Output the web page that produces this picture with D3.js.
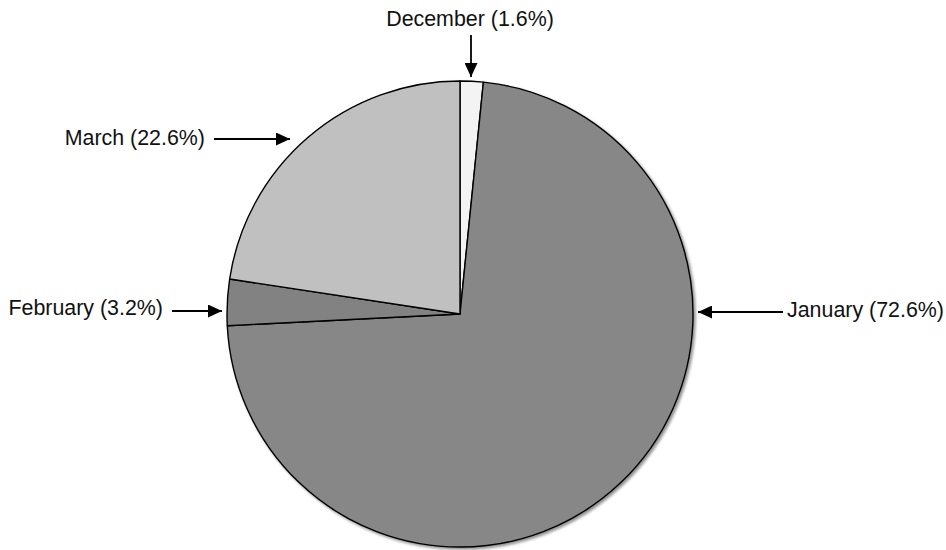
<!DOCTYPE html>
<html>
<head>
<meta charset="utf-8">
<script src="https://cdn.jsdelivr.net/npm/d3@7"></script>
<style>
  html, body { margin: 0; padding: 0; background: #fff; }
  svg { display: block; }
  text { font-family: "Liberation Sans", Arial, sans-serif; font-size: 21.4px; fill: #111; }
</style>
</head>
<body>
<svg id="chart" width="946" height="550"></svg>
<script>
// Share of records by month
const months = ["December", "January", "February", "March"];
const shares = [1.6, 72.6, 3.2, 22.6];
const fills = ["#f3f3f3", "#878787", "#828282", "#c0c0c0"];

const width = 946, height = 550;
const cx = 460, cy = 314, radius = 233;

// Callout placement for each slice label (relative to the pie centre)
// dir: direction the arrow points; len: shaft length; tx/ty: text anchor offset from the tip
const callouts = [
  { dir: "down",  tipX: 11,   tipY: -237, len: 42, anchor: "middle", tx: -1,  ty: -51 },
  { dir: "left",  tipX: 238,  tipY: -2,   len: 85, anchor: "start",  tx: 89,  ty: 5 },
  { dir: "right", tipX: -238, tipY: -3,   len: 50, anchor: "end",    tx: -59, ty: 4 },
  { dir: "right", tipX: -170, tipY: -175, len: 76, anchor: "end",    tx: -85, ty: 6 }
];

const svg = d3.select("#chart");

const defs = svg.append("defs");
const shadow = defs.append("filter").attr("id", "pieShadow")
  .attr("x", "-10%").attr("y", "-10%").attr("width", "120%").attr("height", "120%");
shadow.append("feGaussianBlur").attr("in", "SourceAlpha").attr("stdDeviation", 1.4).attr("result", "b");
shadow.append("feOffset").attr("in", "b").attr("dx", 2).attr("dy", 2).attr("result", "o");
shadow.append("feComponentTransfer").attr("in", "o").attr("result", "s")
  .append("feFuncA").attr("type", "linear").attr("slope", 0.45);
const merge = shadow.append("feMerge");
merge.append("feMergeNode").attr("in", "s");
merge.append("feMergeNode").attr("in", "SourceGraphic");

const data = months.map((m, i) => ({ month: m, share: shares[i], fill: fills[i] }));

const pie = d3.pie().sort(null).value(d => d.share).startAngle(0).endAngle(2 * Math.PI);
const arc = d3.arc().innerRadius(0).outerRadius(radius);

const g = svg.append("g").attr("transform", `translate(${cx},${cy})`);

g.append("g").attr("filter", "url(#pieShadow)")
  .selectAll("path")
  .data(pie(data))
  .join("path")
  .attr("d", arc)
  .attr("fill", d => d.data.fill)
  .attr("stroke", "#000")
  .attr("stroke-width", 1.4)
  .attr("stroke-linejoin", "round");

// Arrowheads
defs.append("marker")
  .attr("id", "arrowHead")
  .attr("viewBox", "0 0 14 13")
  .attr("refX", 14).attr("refY", 6.5)
  .attr("markerWidth", 14).attr("markerHeight", 13)
  .attr("markerUnits", "userSpaceOnUse")
  .attr("orient", "auto")
  .append("path")
  .attr("d", "M0,0 L14,6.5 L0,13 Z")
  .attr("fill", "#000");

const vec = { down: [0, 1], up: [0, -1], left: [-1, 0], right: [1, 0] };

const labels = g.append("g");
data.forEach((d, i) => {
  const c = callouts[i];
  const [ux, uy] = vec[c.dir];
  const x0 = c.tipX - ux * c.len, y0 = c.tipY - uy * c.len;
  labels.append("line")
    .attr("x1", x0).attr("y1", y0)
    .attr("x2", c.tipX).attr("y2", c.tipY)
    .attr("stroke", "#000")
    .attr("stroke-width", 1.8)
    .attr("marker-end", "url(#arrowHead)");
  labels.append("text")
    .attr("x", c.tipX + c.tx)
    .attr("y", c.tipY + c.ty)
    .attr("text-anchor", c.anchor)
    .text(`${d.month} (${d.share}%)`);
});
</script>
</body>
</html>
